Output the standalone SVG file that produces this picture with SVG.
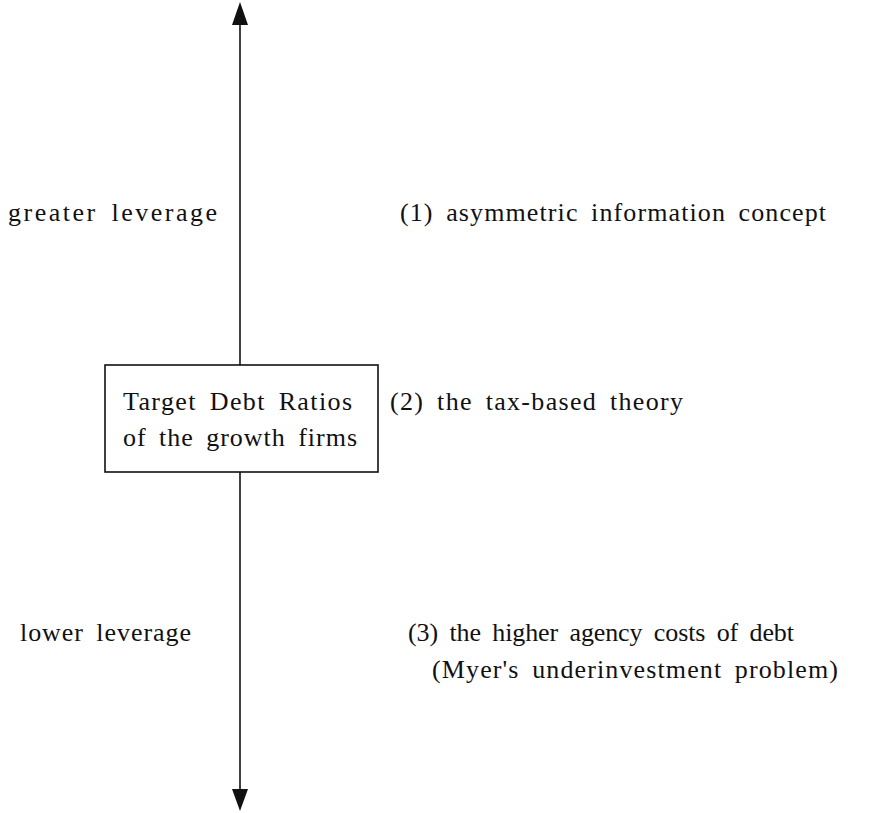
<svg xmlns="http://www.w3.org/2000/svg" width="878" height="813" viewBox="0 0 878 813">
<defs>
<style>
text { font-family: "Liberation Serif", "Times New Roman", serif; font-size: 26px; fill: #111; word-spacing: 5px; }
.ln { stroke: #111; stroke-width: 1.6; fill: none; }
</style>
</defs>
<rect width="878" height="813" fill="#fff"/>
<g id="connectors">
<line class="ln" x1="240" y1="365" x2="240" y2="24"/>
<path d="M240,2 L232,25 L248,25 Z" fill="#111"/>
<line class="ln" x1="240" y1="472" x2="240" y2="790"/>
<path d="M240,811 L232,789 L248,789 Z" fill="#111"/>
</g>
<g id="target">
<rect x="105" y="365" width="273" height="107" fill="#fff" stroke="#111" stroke-width="1.6"/>
<text x="123" y="410" textLength="229" lengthAdjust="spacing">Target Debt Ratios</text>
<text x="123" y="446" textLength="234" lengthAdjust="spacing">of the growth firms</text>
</g>
<g id="greater">
<text x="8" y="221" textLength="209" lengthAdjust="spacing">greater leverage</text>
</g>
<g id="lower">
<text x="20" y="641" textLength="171" lengthAdjust="spacing">lower leverage</text>
</g>
<g id="reason1">
<text x="400" y="221" textLength="426" lengthAdjust="spacing">(1) asymmetric information concept</text>
</g>
<g id="reason2">
<text x="390" y="410" textLength="293" lengthAdjust="spacing">(2) the tax-based theory</text>
</g>
<g id="reason3">
<text x="408" y="641" textLength="386" lengthAdjust="spacing">(3) the higher agency costs of debt</text>
<text x="432" y="678" textLength="406" lengthAdjust="spacing">(Myer's underinvestment problem)</text>
</g>
</svg>
